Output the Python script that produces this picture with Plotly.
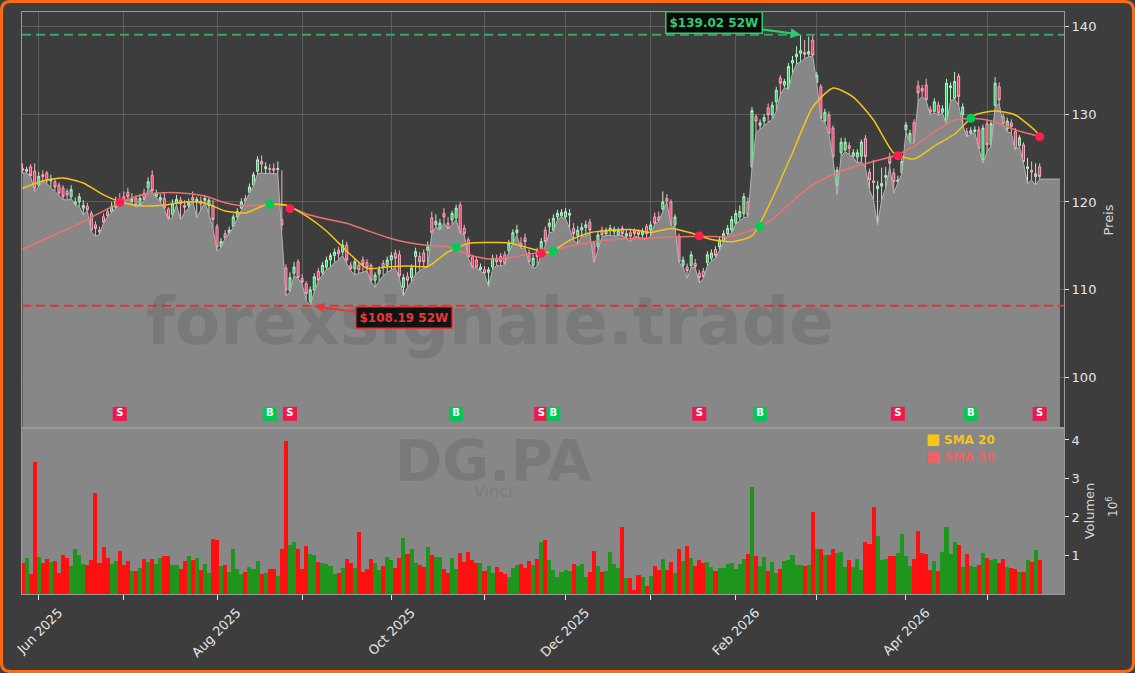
import pandas as pd
import plotly.graph_objects as go

# ---------------- data ----------------
holidays = ["2025-12-25", "2025-12-26", "2026-01-01", "2026-04-03", "2026-04-06", "2026-05-01"]
cal = [d for d in pd.bdate_range("2025-05-27", "2026-06-05") if d.strftime("%Y-%m-%d") not in holidays]
N = 252
dates = cal[:N]

opens = [123.8, 123.5, 124.0, 123.5, 121.9, 123.1, 123.3, 122.4, 122.3, 121.9,
         121.6, 121.2, 120.6, 119.7, 120.0, 119.3, 119.5, 118.7, 117.4, 116.8,
         118.3, 118.9, 118.9, 119.4, 120.3, 120.6, 121.1, 120.1, 120.4, 119.7,
         121.0, 121.6, 123.0, 120.6, 120.2, 120.4, 119.2, 118.6, 119.8, 120.2,
         119.6, 119.6, 120.5, 120.0, 120.1, 120.2, 119.6, 119.6, 117.2, 114.9,
         116.4, 116.4, 117.2, 118.3, 119.3, 120.4, 121.1, 121.9, 123.5, 124.6,
         123.8, 123.8, 123.8, 123.7, 118.0, 112.5, 109.9, 111.9, 113.2, 111.3,
         110.7, 108.7, 110.0, 112.1, 112.0, 112.6, 113.4, 113.9, 114.5, 114.3,
         115.1, 112.8, 112.4, 112.8, 113.4, 113.1, 112.8, 111.1, 111.8, 113.0,
         112.8, 113.4, 114.2, 114.0, 110.3, 111.5, 111.4, 113.8, 113.8, 114.2,
         114.5, 118.2, 117.4, 116.9, 118.7, 117.6, 117.95, 118.2, 119.66, 117.0,
         115.7, 113.75, 113.4, 112.3, 112.3, 112.0, 112.6, 113.6, 113.8, 114.0,
         114.5, 115.3, 116.5, 115.3, 115.9, 114.2, 112.8, 114.35, 114.5, 116.8,
         117.2, 116.8, 118.3, 118.4, 118.3, 118.5, 117.0, 116.2, 116.8, 117.1,
         117.7, 115.3, 114.9, 116.8, 116.4, 116.8, 116.6, 116.25, 117.0, 116.1,
         116.5, 116.7, 116.6, 116.3, 117.2, 116.8, 118.3, 118.3, 119.2, 120.4,
         120.0, 117.4, 116.1, 112.8, 112.6, 112.8, 113.0, 111.9, 112.1, 113.1,
         113.6, 114.6, 114.9, 115.5, 116.4, 116.8, 117.6, 118.3, 118.7, 120.0,
         124.0, 129.7, 128.7, 129.2, 130.7, 129.9, 131.4, 134.1, 133.3, 132.9,
         135.8, 136.5, 136.9, 137.0, 136.8, 138.4, 133.6, 133.1, 129.2, 129.9,
         128.4, 121.9, 125.6, 125.9, 126.4, 125.2, 125.1, 125.2, 127.2, 123.4,
         122.4, 121.5, 121.8, 122.8, 125.15, 123.3, 122.3, 123.3, 128.2, 126.8,
         129.0, 133.2, 132.9, 133.3, 130.5, 130.3, 131.0, 130.2, 128.9, 133.0,
         131.8, 134.3, 129.9, 128.0, 127.8, 128.0, 128.2, 124.8, 128.9, 126.5,
         131.0, 133.1, 129.7, 128.3, 129.0, 128.0, 126.4, 126.5, 123.8, 123.6,
         122.9, 124.0]

highs = [124.4, 124.0, 124.3, 124.4, 123.4, 123.6, 123.5, 123.1, 122.6, 122.2,
         121.9, 121.5, 121.9, 120.5, 121.0, 120.2, 119.9, 119.0, 117.8, 117.2,
         118.7, 119.3, 120.0, 120.6, 121.0, 121.2, 121.6, 121.0, 120.8, 120.9,
         121.5, 122.8, 123.6, 121.4, 120.9, 121.1, 119.4, 120.3, 120.8, 120.6,
         120.2, 120.4, 121.2, 120.6, 120.6, 120.8, 120.5, 120.2, 117.5, 115.9,
         116.8, 117.2, 118.6, 119.3, 120.4, 120.8, 122.1, 123.4, 125.2, 125.3,
         124.5, 124.3, 124.4, 124.6, 123.6, 112.9, 112.0, 113.2, 113.5, 111.8,
         111.0, 110.4, 111.9, 112.5, 113.2, 113.8, 114.2, 114.7, 114.9, 115.7,
         115.5, 113.2, 113.6, 113.1, 113.8, 113.5, 113.0, 112.0, 112.7, 113.4,
         113.8, 114.3, 114.6, 114.5, 111.8, 112.0, 112.9, 114.8, 114.3, 114.6,
         115.5, 118.9, 118.6, 118.1, 119.3, 118.3, 119.0, 119.7, 120.0, 117.4,
         116.0, 114.0, 113.8, 113.0, 112.7, 112.6, 114.0, 114.0, 114.2, 114.4,
         115.7, 116.9, 117.4, 116.0, 116.4, 114.6, 114.0, 114.8, 115.9, 117.2,
         118.1, 118.6, 119.1, 119.2, 119.3, 119.2, 117.6, 117.3, 117.6, 117.9,
         118.1, 115.6, 116.6, 117.2, 117.1, 117.4, 117.2, 117.1, 117.3, 116.8,
         116.9, 117.0, 116.9, 117.0, 117.5, 117.8, 118.8, 118.9, 121.2, 120.9,
         120.3, 118.6, 116.4, 113.8, 113.0, 114.4, 113.5, 112.3, 112.5, 114.4,
         114.6, 115.0, 116.1, 116.8, 117.4, 118.4, 119.1, 119.6, 121.0, 120.5,
         130.8, 130.0, 129.4, 130.0, 131.2, 131.4, 133.1, 134.4, 134.0, 135.8,
         136.6, 137.7, 139.02, 138.4, 138.8, 138.9, 134.8, 133.4, 130.6, 130.3,
         128.7, 124.0, 127.3, 127.3, 126.8, 126.0, 126.0, 127.1, 127.6, 123.8,
         124.8, 122.4, 123.9, 124.0, 125.6, 123.8, 123.0, 125.0, 129.1, 128.2,
         129.4, 133.8, 133.3, 134.0, 130.9, 131.8, 131.4, 131.0, 134.0, 133.6,
         134.8, 134.6, 131.2, 128.4, 128.5, 128.6, 128.6, 128.8, 129.4, 129.3,
         134.2, 133.6, 130.1, 129.6, 129.4, 128.4, 127.6, 126.8, 125.0, 124.6,
         124.4, 124.4]

lows = [123.3, 123.3, 122.9, 121.2, 121.8, 122.4, 122.1, 121.7, 121.2, 120.7,
        120.3, 120.2, 120.4, 119.6, 119.5, 118.5, 119.0, 116.6, 116.1, 116.3,
        117.6, 118.3, 118.8, 119.3, 119.8, 119.9, 120.4, 119.9, 119.4, 119.6,
        120.1, 121.5, 121.1, 120.5, 120.0, 119.2, 118.0, 118.3, 119.7, 118.0,
        118.8, 119.3, 120.1, 118.2, 119.1, 120.0, 118.6, 117.0, 114.4, 114.8,
        115.9, 116.4, 117.1, 118.1, 119.2, 120.0, 121.0, 121.8, 123.2, 123.3,
        123.2, 123.3, 123.2, 123.2, 116.8, 109.3, 109.8, 111.6, 111.3, 110.7,
        108.8, 108.19, 109.8, 111.0, 111.7, 112.3, 112.6, 113.1, 113.4, 113.9,
        113.0, 112.2, 111.7, 111.9, 112.0, 112.2, 110.9, 110.3, 111.0, 111.6,
        112.0, 112.3, 112.5, 111.3, 109.3, 110.3, 110.9, 111.8, 112.2, 112.5,
        112.6, 116.4, 117.2, 116.8, 117.6, 116.9, 117.4, 118.0, 116.4, 116.3,
        113.6, 112.5, 112.5, 112.2, 111.8, 110.4, 112.3, 112.8, 112.7, 112.9,
        114.3, 115.3, 116.2, 114.7, 114.8, 113.0, 112.4, 112.7, 114.0, 115.0,
        116.5, 116.6, 118.0, 118.3, 118.1, 117.0, 115.6, 115.3, 116.1, 116.1,
        116.4, 113.1, 114.6, 116.0, 116.2, 116.2, 116.1, 116.2, 116.2, 115.8,
        115.5, 116.1, 116.0, 115.8, 115.8, 116.1, 117.5, 117.8, 119.0, 120.0,
        117.3, 117.2, 113.1, 112.6, 111.3, 112.6, 112.5, 110.8, 111.3, 112.7,
        113.3, 113.6, 114.5, 115.5, 116.2, 116.5, 117.5, 117.9, 118.2, 118.3,
        123.8, 127.9, 128.3, 128.6, 129.0, 129.4, 130.3, 132.2, 133.0, 132.8,
        134.6, 135.7, 135.9, 136.3, 136.5, 136.6, 133.5, 129.4, 129.0, 127.7,
        124.9, 120.8, 125.2, 125.7, 125.4, 125.1, 124.4, 124.6, 123.9, 121.4,
        120.2, 117.4, 120.2, 121.6, 124.0, 121.0, 122.2, 123.2, 128.0, 126.7,
        126.7, 131.5, 132.0, 131.5, 129.9, 130.1, 129.9, 130.1, 128.8, 131.5,
        131.7, 131.0, 128.8, 127.4, 127.7, 127.9, 126.0, 124.4, 125.7, 126.4,
        130.8, 131.2, 128.7, 128.0, 127.8, 125.9, 126.3, 124.4, 122.1, 122.5,
        121.9, 122.6]

closes = [123.6, 123.7, 123.0, 121.6, 122.9, 122.9, 122.4, 122.6, 121.7, 121.0,
          120.6, 120.8, 121.4, 120.0, 120.6, 119.6, 119.1, 116.8, 117.0, 116.6,
          117.7, 118.4, 119.5, 120.1, 120.0, 120.0, 120.6, 120.4, 119.6, 120.4,
          120.3, 122.3, 121.3, 121.0, 120.5, 119.3, 118.2, 119.8, 120.3, 119.8,
          119.4, 120.0, 120.2, 120.3, 119.8, 120.4, 120.2, 118.0, 114.9, 115.5,
          115.9, 116.8, 118.3, 118.9, 120.0, 120.1, 121.7, 123.1, 124.8, 124.3,
          124.0, 123.7, 123.6, 123.8, 117.4, 110.0, 111.4, 112.6, 111.4, 110.9,
          109.6, 110.0, 111.5, 111.1, 112.8, 113.4, 113.9, 114.3, 114.1, 115.1,
          113.4, 112.4, 113.2, 112.3, 112.9, 112.5, 111.1, 111.7, 112.3, 112.5,
          113.4, 113.9, 113.6, 111.6, 111.4, 111.1, 112.5, 114.35, 113.2, 113.2,
          114.9, 116.5, 117.8, 117.6, 118.3, 117.0, 118.7, 119.3, 116.5, 116.4,
          113.75, 112.6, 112.6, 112.6, 111.9, 112.3, 113.6, 113.2, 113.2, 113.0,
          115.3, 116.5, 116.8, 114.9, 115.5, 113.2, 113.6, 113.8, 115.5, 115.5,
          117.6, 118.15, 118.7, 118.8, 118.9, 118.7, 116.4, 116.8, 117.1, 117.4,
          116.8, 113.2, 116.25, 116.25, 116.8, 117.0, 116.9, 116.8, 116.4, 116.4,
          116.1, 116.4, 116.3, 116.7, 116.4, 117.4, 117.6, 117.9, 120.0, 120.1,
          117.4, 118.3, 113.2, 113.4, 112.2, 114.0, 112.65, 111.4, 111.5, 114.0,
          114.2, 113.9, 115.7, 116.4, 117.0, 118.0, 118.7, 118.9, 120.6, 118.5,
          130.4, 129.2, 129.0, 129.6, 129.9, 131.0, 132.7, 133.5, 133.7, 135.4,
          136.1, 136.8, 137.2, 136.8, 137.1, 136.7, 134.4, 129.5, 130.2, 127.8,
          125.15, 123.6, 126.8, 126.8, 126.1, 125.6, 125.6, 126.8, 125.15, 122.5,
          122.2, 121.8, 122.1, 123.0, 124.4, 122.3, 122.5, 124.6, 128.75, 127.8,
          126.8, 132.4, 132.6, 131.6, 130.2, 131.4, 130.1, 130.6, 133.5, 133.2,
          133.7, 132.0, 130.8, 127.5, 128.1, 128.2, 126.1, 128.4, 126.5, 128.9,
          133.5, 131.6, 128.9, 129.2, 128.6, 126.1, 127.3, 124.6, 124.0, 123.4,
          123.2, 122.9]

volumes_m = [0.80, 0.93, 0.52, 3.42, 0.96, 0.80, 0.90, 0.84, 0.85, 0.55,
             1.01, 0.93, 0.73, 1.16, 1.01, 0.78, 0.76, 0.88, 2.62, 0.80,
             1.22, 0.93, 0.79, 0.85, 1.11, 0.76, 0.85, 0.60, 0.60, 0.67,
             0.90, 0.84, 0.90, 0.79, 0.93, 0.98, 0.98, 0.76, 0.76, 0.66,
             0.85, 0.98, 0.88, 0.93, 0.62, 0.78, 0.54, 1.42, 1.40, 0.74,
             0.76, 0.57, 1.16, 0.66, 0.53, 0.57, 0.71, 0.66, 0.85, 0.51,
             0.54, 0.66, 0.66, 0.48, 1.16, 3.98, 1.28, 1.35, 1.18, 0.66,
             1.25, 1.04, 1.01, 0.83, 0.80, 0.78, 0.74, 0.53, 0.55, 0.67,
             0.90, 0.80, 0.67, 1.61, 0.57, 0.66, 0.90, 0.80, 0.62, 0.74,
             0.96, 0.88, 0.67, 0.93, 1.45, 1.03, 1.16, 0.80, 0.76, 0.71,
             1.22, 1.01, 0.96, 0.96, 0.66, 0.55, 0.93, 0.66, 1.06, 0.83,
             1.09, 0.88, 0.80, 0.80, 0.59, 0.74, 0.55, 0.71, 0.57, 0.53,
             0.43, 0.67, 0.76, 0.78, 0.67, 0.85, 0.76, 0.90, 1.35, 1.40,
             0.88, 0.63, 0.43, 0.57, 0.62, 0.59, 0.78, 0.74, 0.78, 0.45,
             0.57, 1.11, 0.74, 0.57, 0.59, 1.09, 0.78, 0.67, 1.73, 0.41,
             0.41, 0.10, 0.50, 0.43, 0.21, 0.48, 0.74, 0.62, 0.90, 0.62,
             0.83, 0.55, 1.18, 0.85, 1.25, 0.93, 0.74, 0.88, 0.80, 0.83,
             0.71, 0.59, 0.67, 0.67, 0.78, 0.80, 0.66, 0.78, 0.90, 1.03,
             2.77, 0.98, 0.74, 0.96, 0.59, 0.83, 0.55, 0.66, 0.85, 0.88,
             1.01, 0.76, 0.76, 0.72, 0.76, 2.14, 1.16, 1.18, 1.02, 1.02,
             1.18, 1.06, 1.08, 0.70, 0.87, 0.69, 0.90, 0.62, 1.36, 1.30,
             2.25, 1.50, 0.87, 0.90, 0.98, 0.98, 1.06, 1.55, 0.98, 0.73,
             0.90, 1.63, 1.06, 1.04, 0.63, 0.86, 0.61, 1.10, 1.73, 1.04,
             1.35, 1.27, 0.70, 1.04, 0.72, 0.70, 0.75, 1.06, 0.94, 0.89,
             0.90, 0.81, 0.90, 0.70, 0.68, 0.66, 0.56, 0.57, 0.89, 0.84,
             1.14, 0.89]

sma_idx = list(range(0, 251, 5)) + [251]
sma20 = [121.56, 122.39, 122.73, 122.16, 120.80, 119.89, 119.55, 119.66, 120.0, 119.89,
         118.98, 118.75, 119.66, 119.66, 118.41, 116.70, 114.43, 112.44, 112.61, 112.73,
         112.67, 114.32, 115.28, 115.38, 115.34, 114.77, 114.26, 115.63, 116.51, 116.76,
         116.88, 116.53, 116.99, 116.48, 115.74, 115.49, 116.14, 120.39, 125.57, 130.8,
         132.95, 131.93, 129.32, 125.57, 124.89, 126.36, 127.73, 129.89, 130.34, 129.89,
         128.07, 127.44]
sma50 = [114.63, 115.68, 116.70, 117.76, 118.98, 120.11, 120.85, 121.06, 121.0, 120.68,
         119.92, 119.55, 119.69, 119.6, 118.64, 118.07, 117.58, 116.76, 115.97, 115.40,
         115.06, 114.89, 114.03, 113.52, 113.64, 114.09, 114.38, 115.0, 115.40, 115.70,
         115.85, 115.91, 116.02, 116.06, 116.06, 116.11, 116.82, 118.01, 120.11, 121.93,
         123.13, 123.98, 124.60, 125.23, 126.31, 127.95, 129.32, 129.49, 129.09, 128.18,
         127.56, 127.42]

buy_idx = [61, 107, 131, 182, 234]
buy_px = [119.74, 114.85, 114.43, 117.2, 129.51]
sell_idx = [24, 66, 128, 167, 216, 251]
sell_px = [119.97, 119.24, 114.17, 116.14, 125.26, 127.42]

ticker = "DG.PA"
company = "Vinci"
watermark = "forexsignale.trade"

# ---------------- styling ----------------
BG = "#3d3d3d"
FILL = "#878787"
GRID = "#5e5e5e"
AXL = "#9a9a9a"
TXT = "#e6e6e6"
C20 = "#f5c518"
C50 = "#f07070"
UPV = "#1e961e"
DNV = "#ff1010"
SIG_S = "#f0174f"
SIG_B = "#00c853"
WM = "rgba(45,45,45,0.15)"
FONT = "DejaVu Sans"

W, H = 1135, 673
ML, MR, MT, MB = 22, 71, 12, 79
PW, PH = W - ML - MR, H - MT - MB
SPLIT = 166 / PH
YMIN, YMAX = 94.3, 141.6
SIG_Y = YMIN + 0.034 * (YMAX - YMIN)

ext_date = cal[N + 4]
month_ticks, month_text = [], []
seen = set()
for d in dates:
    key = (d.year, d.month)
    if key not in seen:
        seen.add(key)
        if key != (2025, 5):
            month_ticks.append(d)
            month_text.append(d.strftime("%b %Y") if d.month % 2 == 0 else " ")

vol_colors = [UPV if c >= o else DNV for o, c in zip(opens, closes)]
sma_dates = [dates[i] for i in sma_idx]

hi_i = max(range(N), key=lambda i: highs[i])
lo_i = min(range(N), key=lambda i: lows[i])
hi52, lo52 = highs[hi_i], lows[lo_i]

fig = go.Figure()

fig.add_trace(go.Scatter(x=dates + [ext_date], y=lows + [lows[-1]], mode="lines",
                         fill="tozeroy", fillcolor=FILL, line=dict(color="#b4b4b4", width=1),
                         hoverinfo="skip", showlegend=False, xaxis="x", yaxis="y"))
fig.add_trace(go.Scatter(x=sma_dates, y=sma50, mode="lines", name="SMA 50",
                         line=dict(color=C50, width=1.5, shape="spline", smoothing=0.6),
                         showlegend=False, xaxis="x", yaxis="y"))
fig.add_trace(go.Scatter(x=sma_dates, y=sma20, mode="lines", name="SMA 20",
                         line=dict(color=C20, width=1.5, shape="spline", smoothing=0.6),
                         showlegend=False, xaxis="x", yaxis="y"))
fig.add_trace(go.Candlestick(x=dates, open=opens, high=highs, low=lows, close=closes,
                             increasing=dict(line=dict(color="#b6f2c6", width=1), fillcolor="#1fc95a"),
                             decreasing=dict(line=dict(color="#f5b0c0", width=1), fillcolor="#f2285a"),
                             whiskerwidth=0, showlegend=False, xaxis="x", yaxis="y"))
fig.add_trace(go.Scatter(x=[dates[i] for i in sell_idx], y=sell_px, mode="markers",
                         marker=dict(color="#ff1f4f", size=9), showlegend=False, xaxis="x", yaxis="y"))
fig.add_trace(go.Scatter(x=[dates[i] for i in buy_idx], y=buy_px, mode="markers",
                         marker=dict(color="#00cc55", size=9), showlegend=False, xaxis="x", yaxis="y"))
fig.add_trace(go.Scatter(x=[dates[i] for i in sell_idx], y=[SIG_Y] * len(sell_idx), mode="markers+text",
                         marker=dict(symbol="square", size=14, color=SIG_S),
                         text=["S"] * len(sell_idx), textposition="middle center",
                         textfont=dict(color="white", size=10, family=FONT, weight="bold"),
                         showlegend=False, xaxis="x", yaxis="y"))
fig.add_trace(go.Scatter(x=[dates[i] for i in buy_idx], y=[SIG_Y] * len(buy_idx), mode="markers+text",
                         marker=dict(symbol="square", size=14, color=SIG_B),
                         text=["B"] * len(buy_idx), textposition="middle center",
                         textfont=dict(color="white", size=10, family=FONT, weight="bold"),
                         showlegend=False, xaxis="x", yaxis="y"))
fig.add_trace(go.Bar(x=dates, y=volumes_m, marker=dict(color=vol_colors, line=dict(width=0)),
                     showlegend=False, xaxis="x2", yaxis="y2"))

rb = [dict(bounds=["sat", "mon"]), dict(values=holidays)]
xr = ["2025-05-26 21:00", cal[N + 5].strftime("%Y-%m-%d")]

fig.update_layout(
    width=W, height=H, margin=dict(l=ML, r=MR, t=MT, b=MB),
    paper_bgcolor=BG, plot_bgcolor=BG, bargap=0,
    font=dict(family=FONT, color=TXT, size=13),
    xaxis=dict(domain=[0, 1], anchor="y", matches="x2", rangebreaks=rb, range=xr,
               tickvals=month_ticks, showticklabels=False, ticks="",
               showgrid=True, gridcolor=GRID, gridwidth=1,
               showline=True, mirror=True, linecolor=AXL, linewidth=1,
               rangeslider=dict(visible=False), zeroline=False),
    yaxis=dict(domain=[SPLIT, 1], anchor="x", side="right", range=[YMIN, YMAX],
               tickvals=[100, 110, 120, 130, 140], ticks="outside", ticklen=4, tickcolor=TXT,
               showgrid=True, gridcolor=GRID, zeroline=False,
               showline=True, mirror=True, linecolor=AXL,
               title=dict(text="Preis", standoff=8, font=dict(size=13, color="#d8d8d8")),
               tickfont=dict(size=13, color=TXT)),
    xaxis2=dict(domain=[0, 1], anchor="y2", rangebreaks=rb, range=xr,
                tickvals=month_ticks, ticktext=month_text, tickangle=-45,
                ticks="outside", ticklen=5, tickcolor=TXT, ticklabelshift=20,
                showgrid=False, showline=True, mirror=True, linecolor=AXL,
                rangeslider=dict(visible=False), zeroline=False,
                tickfont=dict(size=13, color=TXT)),
    yaxis2=dict(domain=[0, SPLIT], anchor="x2", side="right", range=[0, 4.31],
                tickvals=[1, 2, 3, 4], ticks="outside", ticklen=4, tickcolor=TXT,
                showgrid=False, zeroline=False, showline=True, mirror=True, linecolor=AXL,
                title=dict(text="Volumen", standoff=6, font=dict(size=13, color="#d8d8d8")),
                tickfont=dict(size=13, color=TXT)),
)

# volume panel background
fig.add_shape(type="rect", xref="x2 domain", yref="y2 domain", x0=0, x1=1, y0=0, y1=1,
              fillcolor=FILL, line=dict(width=0), layer="below")
# 52-week lines
fig.add_shape(type="line", xref="x domain", yref="y", x0=0, x1=1, y0=hi52, y1=hi52,
              line=dict(color="#3aa564", width=2, dash="9px,5px"))
fig.add_shape(type="line", xref="x domain", yref="y", x0=0, x1=1, y0=lo52, y1=lo52,
              line=dict(color="#d93636", width=2, dash="9px,5px"))

# orange rounded frame around the whole figure
x0, x1 = (1.5 - ML) / PW, (W - 1.5 - ML) / PW
y0, y1 = -(H - 1.5 - (H - MB)) / PH, (H - MB - 1.5) / PH
rx, ry = 9 / PW, 9 / PH
path = (f"M {x0+rx},{y1} L {x1-rx},{y1} Q {x1},{y1} {x1},{y1-ry} L {x1},{y0+ry} "
        f"Q {x1},{y0} {x1-rx},{y0} L {x0+rx},{y0} Q {x0},{y0} {x0},{y0+ry} "
        f"L {x0},{y1-ry} Q {x0},{y1} {x0+rx},{y1} Z")
fig.add_shape(type="path", xref="paper", yref="paper", path=path,
              line=dict(color="#ff6a10", width=3), fillcolor="rgba(0,0,0,0)")


def px_x(p):
    return (p - ML) / PW


def px_y(p):
    return (H - MB - p) / PH


def note(x, y, text, size, color, bold=False, angle=0, xanchor="center"):
    fig.add_annotation(xref="paper", yref="paper", x=px_x(x), y=px_y(y),
                       xanchor=xanchor, yanchor="middle", text=f"<b>{text}</b>" if bold else text,
                       textangle=angle, showarrow=False,
                       font=dict(size=size, color=color, family=FONT))


# watermarks
note(490, 321, watermark, 66, WM, bold=True)
note(493, 461, ticker, 57, WM, bold=True)
note(493, 491, company, 16, WM)

# 52W labels
fig.add_annotation(x=dates[hi_i], y=hi52, xref="x", yref="y", text=f"<b>${hi52:.2f} 52W</b>",
                   showarrow=True, ax=-87, ay=-12, arrowhead=2, arrowsize=1, arrowwidth=2,
                   arrowcolor="#2ecc71", font=dict(size=12, color="#2ecc71", family=FONT),
                   bgcolor="rgba(0,0,0,0.85)", bordercolor="#2ecc71", borderwidth=1.5, borderpad=3)
fig.add_annotation(x=dates[lo_i], y=lo52, xref="x", yref="y", text=f"<b>${lo52:.2f} 52W</b>",
                   showarrow=True, ax=94, ay=12, arrowhead=2, arrowsize=1, arrowwidth=2, standoff=4,
                   arrowcolor="#e03a3a", font=dict(size=12, color="#e83838", family=FONT),
                   bgcolor="rgba(0,0,0,0.85)", bordercolor="#e03a3a", borderwidth=1.5, borderpad=3)

# legend (as annotations)
note(924, 438.5, "<span style='font-size:15px'>■</span> <b>SMA 20</b>", 12, C20, xanchor="left")
note(924, 455.5, "<span style='font-size:15px'>■</span> <b>SMA 50</b>", 12, "#eb6464", xanchor="left")
# volume offset text
note(1112, 507, "10<sup>6</sup>", 12, "#d8d8d8", angle=-90)

fig.write_html("out.html")
